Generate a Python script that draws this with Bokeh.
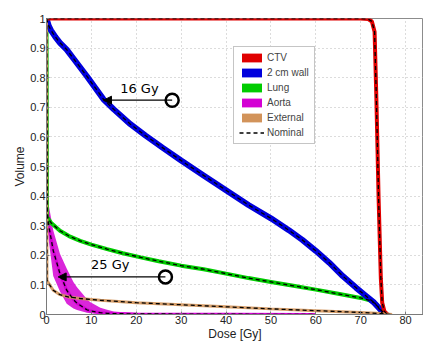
from bokeh.plotting import figure
from bokeh.models import (Range1d, FixedTicker, Legend, LegendItem, Arrow,
                          NormalHead)
from bokeh.embed import file_html
from bokeh.resources import INLINE
from bokeh.core.properties import value

# ---------------- data ----------------
x_ticks = [0, 10, 20, 30, 40, 50, 60, 70, 80]
y_ticks = [0, 0.1, 0.2, 0.3, 0.4, 0.5, 0.6, 0.7, 0.8, 0.9, 1.0]
y_tick_labels = ["0", "0.1", "0.2", "0.3", "0.4", "0.5", "0.6", "0.7", "0.8", "0.9", "1"]

ctv_dose = [0, 70, 71.7, 72.5, 73.1, 73.5, 74.0, 74.5, 74.8, 75.3, 76.0]
ctv_vol = [1.0, 1.0, 0.998, 0.99, 0.955, 0.73, 0.39, 0.12, 0.04, 0.01, 0.0]

wall_dose = [0, 0.5, 1, 2, 3, 4.5, 6, 9, 12.7, 15, 18.7, 22, 26, 30, 35, 40, 45,
             50, 54, 57, 60, 63, 66, 69, 71, 73, 74.5, 75.5]
wall_vol = [1.0, 0.975, 0.96, 0.937, 0.918, 0.895, 0.865, 0.805, 0.727, 0.693,
            0.643, 0.605, 0.562, 0.52, 0.47, 0.42, 0.37, 0.325, 0.285, 0.252,
            0.215, 0.175, 0.13, 0.09, 0.065, 0.04, 0.015, 0.0]

lung_dose = [0, 0.1, 1, 3, 5, 7.5, 10, 13.5, 17, 21, 25, 30, 35, 40, 45, 50, 55,
             60, 65, 70, 72, 73.5, 74.5, 75]
lung_vol = [1.0, 0.33, 0.31, 0.283, 0.265, 0.249, 0.236, 0.221, 0.207, 0.193,
            0.18, 0.165, 0.153, 0.138, 0.123, 0.11, 0.097, 0.084, 0.07, 0.056,
            0.048, 0.035, 0.01, 0.0]

aorta_dose = [0, 0.1, 0.5, 1.5, 3, 4.5, 6, 6.8, 9, 9.7, 12, 13.5, 15, 20, 60]
aorta_vol = [1.0, 0.36, 0.30, 0.216, 0.138, 0.082, 0.05, 0.038, 0.016, 0.012,
             0.006, 0.004, 0.003, 0.002, 0.0]
aorta_hi = [1.0, 0.44, 0.37, 0.285, 0.205, 0.155, 0.11, 0.092, 0.052, 0.042,
            0.023, 0.016, 0.01, 0.004, 0.0]
aorta_lo = [1.0, 0.33, 0.25, 0.13, 0.078, 0.036, 0.02, 0.015, 0.006, 0.004,
            0.002, 0.001, 0.0, 0.0, 0.0]

ext_dose = [0, 0.1, 0.7, 1.5, 3, 5, 7.5, 12, 20, 30, 40, 50, 60, 70, 74.5, 77]
ext_vol = [1.0, 0.115, 0.1, 0.082, 0.067, 0.059, 0.054, 0.048, 0.04, 0.033,
           0.026, 0.019, 0.013, 0.007, 0.003, 0.0]

legend_names = ["CTV", "2 cm wall", "Lung", "Aorta", "External"]

ann_text = ["16 Gy", "25 Gy"]
ann_text_x = [20.7, 14.2]
ann_text_y = [0.737, 0.143]
ann_from_x = [28.0, 26.5]
ann_to_x = [12.7, 2.6]
ann_y = [0.724, 0.127]

# ---------------- figure ----------------
p = figure(width=423, height=343, x_range=Range1d(0, 84), y_range=Range1d(0, 1),
           output_backend="svg", toolbar_location=None,
           min_border_left=46, min_border_right=0, min_border_top=18,
           min_border_bottom=26)
p.background_fill_color = "white"
p.border_fill_color = "white"
p.outline_line_color = "#8c8c8c"

FONT = "Liberation Sans"
for ax in (p.xaxis[0], p.yaxis[0]):
    ax.major_label_text_font = FONT
    ax.major_label_text_font_size = "11px"
    ax.major_label_text_color = "#222222"
    ax.axis_label_text_font = FONT
    ax.axis_label_text_font_size = "12px"
    ax.axis_label_text_font_style = "normal"
    ax.axis_label_text_color = "#222222"
    ax.axis_line_color = "#7a7a7a"
    ax.major_tick_line_color = "#7a7a7a"
    ax.major_tick_in = 3
    ax.major_tick_out = 0
    ax.minor_tick_line_color = None
    ax.major_label_standoff = 1
    ax.axis_label_standoff = 0

p.xaxis.ticker = FixedTicker(ticks=x_ticks)
p.yaxis.ticker = FixedTicker(ticks=y_ticks)
p.yaxis.major_label_overrides = {t: l for t, l in zip(y_ticks, y_tick_labels)}
p.xaxis.axis_label = "Dose [Gy]"
p.yaxis.axis_label = "Volume"

p.xgrid.ticker = FixedTicker(ticks=x_ticks)
p.ygrid.ticker = FixedTicker(ticks=y_ticks)
for g in (p.xgrid[0], p.ygrid[0]):
    g.grid_line_color = "#b8b8b8"
    g.grid_line_dash = "1 3"
    g.grid_line_width = 1

RED = "#e00000"
BLUE = "#0000dd"
GREEN = "#00cc00"
MAG = "#d400d4"
TAN = "#d2935a"
colors = [RED, BLUE, GREEN, MAG, TAN]

# bundles (coloured bands)
p.varea(x=aorta_dose, y1=aorta_lo, y2=aorta_hi, fill_color=MAG, fill_alpha=0.85)
p.line(aorta_dose, aorta_vol, line_color=MAG, line_width=3)
p.line(lung_dose, lung_vol, line_color=GREEN, line_width=4)
p.line(wall_dose, wall_vol, line_color=BLUE, line_width=6)
p.line(ctv_dose, ctv_vol, line_color=RED, line_width=4)
p.line(ext_dose, ext_vol, line_color=TAN, line_width=3, line_alpha=0.9)

# nominal dashed curves
nominal = []
for dx, vy in ((ext_dose, ext_vol), (aorta_dose, aorta_vol), (lung_dose, lung_vol),
               (wall_dose, wall_vol), (ctv_dose, ctv_vol)):
    nominal.append(p.line(dx, vy, line_color="black", line_width=1.3, line_dash="4 3"))

# annotations
for i in range(len(ann_text)):
    p.add_layout(Arrow(end=NormalHead(size=8, fill_color="black", line_color="black"),
                       x_start=ann_from_x[i], y_start=ann_y[i],
                       x_end=ann_to_x[i], y_end=ann_y[i],
                       line_color="black", line_width=1.3))
p.scatter(ann_from_x, ann_y, marker="circle", size=13, fill_color="white",
          line_color="black", line_width=2.5)
p.text(x=ann_text_x, y=ann_text_y, text=ann_text, text_align="center",
       text_baseline="bottom", text_font=value("DejaVu Sans"),
       text_font_size="13px", text_color="black")

# legend proxies: zero-area quads (invisible in the plot)
proxies = []
for c in colors:
    proxies.append(p.quad(left=[0], right=[0], top=[0], bottom=[0],
                          fill_color=c, line_color=None))
items = [LegendItem(label=n, renderers=[r]) for n, r in zip(legend_names, proxies)]
items.append(LegendItem(label="Nominal", renderers=[nominal[-1]]))
legend = Legend(items=items, location=(187, 170), padding=5, spacing=4,
                glyph_width=25, glyph_height=11, label_standoff=3,
                label_height=11, margin=0,
                label_text_font=FONT, label_text_font_size="10px",
                border_line_color="#8c8c8c", background_fill_color="white",
                background_fill_alpha=1.0)
p.add_layout(legend, "center")

open("out.html", "w").write(file_html(p, INLINE))
